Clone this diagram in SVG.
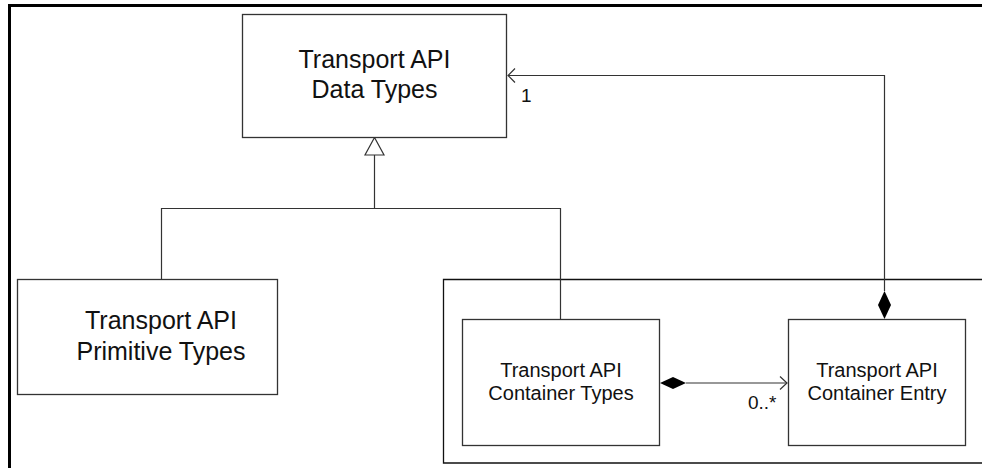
<svg xmlns="http://www.w3.org/2000/svg" width="982" height="468" viewBox="0 0 982 468">
<style>
.box{fill:#fff;stroke:#333;stroke-width:1.3}
.ln{fill:none;stroke:#333;stroke-width:1.2}
.big{font-family:"Liberation Sans",Arial,sans-serif;font-size:25px;fill:#111;text-anchor:middle}
.sm{font-family:"Liberation Sans",Arial,sans-serif;font-size:20px;fill:#111;text-anchor:middle}
.lbl{font-family:"Liberation Sans",Arial,sans-serif;font-size:19px;fill:#111}
</style>
<rect width="982" height="468" fill="#fff"/>
<g id="frame">
<path d="M9.5 468 V5.5 H982" fill="none" stroke="#000" stroke-width="3"/>
</g>
<g id="package">
<path d="M982 279.5 H443.5 V463 H982" fill="none" stroke="#111" stroke-width="1.3"/>
</g>
<g id="connectors">
<path class="ln" d="M374.5 155 V208.5 M161.5 279 V208.5 H560.5 V319"/>
<polygon points="374.5,137.5 365,155 384,155" fill="#fff" stroke="#333" stroke-width="1.2"/>
<path class="ln" d="M884.5 291 V75.5 H508"/>
<path class="ln" d="M515 68.5 L508 75.5 L515 82.5"/>
<polygon points="884.5,291 891,305 884.5,319 878,305" fill="#000"/>
<path class="ln" d="M686 383 H787"/>
<path class="ln" d="M780 376.5 L787 383 L780 389.5"/>
<polygon points="660,383 673,377 686,383 673,389" fill="#000"/>
<text class="lbl" x="521" y="102">1</text>
<text class="lbl" x="748" y="409">0..*</text>
</g>
<g id="data-types">
<rect class="box" x="242.5" y="14.5" width="264" height="123"/>
<text class="big" x="374.5" y="67.5">Transport API</text>
<text class="big" x="374.5" y="97.5">Data Types</text>
</g>
<g id="primitive-types">
<rect class="box" x="17.5" y="279.5" width="260" height="115"/>
<text class="big" x="161" y="328.5">Transport API</text>
<text class="big" x="161" y="359.5">Primitive Types</text>
</g>
<g id="container-types">
<rect class="box" x="462.5" y="319.5" width="197" height="126"/>
<text class="sm" x="561" y="377">Transport API</text>
<text class="sm" x="561" y="400">Container Types</text>
</g>
<g id="container-entry">
<rect class="box" x="788.5" y="319.5" width="177" height="126"/>
<text class="sm" x="877" y="377">Transport API</text>
<text class="sm" x="877" y="400">Container Entry</text>
</g>
</svg>
